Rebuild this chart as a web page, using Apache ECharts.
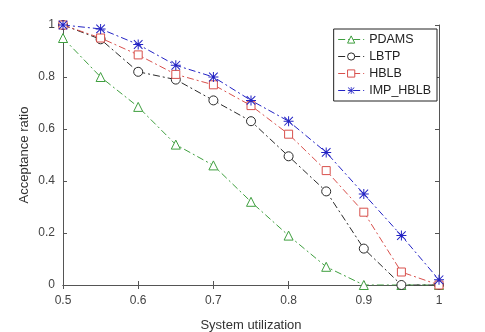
<!DOCTYPE html>
<html>
<head>
<meta charset="utf-8">
<script src="https://cdn.jsdelivr.net/npm/echarts@6/dist/echarts.min.js"></script>
<style>
  html,body{margin:0;padding:0;background:#fff;}
  #chart{width:485px;height:332px;}
</style>
</head>
<body>
<div id="chart"></div>
<script>
// x values (system utilization)
const utilization=[0.5,0.55,0.6,0.65,0.7,0.75,0.8,0.85,0.9,0.95,1];
// acceptance ratio for each algorithm
const pdams=[0.95,0.80,0.685,0.54,0.46,0.32,0.19,0.07,0,0,0];
const lbtp=[1,0.945,0.82,0.79,0.71,0.63,0.495,0.36,0.14,0,0];
const hblb=[1,0.95,0.885,0.81,0.77,0.69,0.58,0.44,0.28,0.05,0];
const impHblb=[1,0.985,0.925,0.845,0.80,0.71,0.63,0.51,0.35,0.19,0.02];

const names=['PDAMS','LBTP','HBLB','IMP_HBLB'];
const values=[pdams,lbtp,hblb,impHblb];
const colors=['#3f9f3f','#2a2a2a','#d8504c','#2323c4'];

const starPath='path://M4.5 0H5.5V10H4.5Z M0 4.5H10V5.5H0Z M0.35 1.06L1.06 0.35L9.65 8.94L8.94 9.65Z M8.94 0.35L9.65 1.06L1.06 9.65L0.35 8.94Z';
const symbols=['triangle','circle','rect',starPath];
const symbolSizes=[9,9,8,10];

const font='"Liberation Sans", Arial, sans-serif';
const axisColor='#555';

const series=names.map((name,i)=>({
    name:name,
    type:'line',
    xAxisIndex:0,
    yAxisIndex:0,
    symbol:symbols[i],
    symbolSize:symbolSizes[i],
    showAllSymbol:true,
    lineStyle:{color:colors[i],width:1,type:[7,3,2,3]},
    itemStyle:i===3?{color:colors[i],borderWidth:0}:{color:'#fff',borderColor:colors[i],borderWidth:1},
    data:utilization.map((x,k)=>[x,values[i][k]])
}));

const fmt=v=>String(+v.toFixed(2));

const option={
    animation:false,
    backgroundColor:'#fff',
    grid:{left:63,right:46,top:25,bottom:47,outerBoundsMode:'none'},
    legend:{
        orient:'vertical',
        right:48,
        top:29,
        backgroundColor:'#fff',
        borderColor:'#222',
        borderWidth:1,
        borderRadius:0,
        padding:[4,6,4,4],
        itemGap:4,
        itemWidth:26,
        itemHeight:9,
        itemStyle:{borderWidth:1},
        lineStyle:{width:1},
        textStyle:{fontFamily:font,fontSize:12.5,color:'#222'},
        data:names
    },
    xAxis:[{
        type:'value',
        min:0.5,max:1,interval:0.1,
        name:'System utilization',
        nameLocation:'middle',
        nameGap:34,
        nameMoveOverlap:false,
        nameTextStyle:{fontFamily:font,fontSize:13,color:'#333'},
        axisLine:{lineStyle:{color:axisColor}},
        axisTick:{inside:true,length:4,lineStyle:{color:axisColor}},
        axisLabel:{fontFamily:font,fontSize:12,color:'#444',margin:10,formatter:fmt},
        splitLine:{show:false}
    },{
        type:'value',
        position:'top',
        min:0.5,max:1,interval:0.1,
        axisLine:{lineStyle:{color:axisColor}},
        axisTick:{inside:true,length:4,lineStyle:{color:axisColor}},
        axisLabel:{show:false},
        splitLine:{show:false}
    }],
    yAxis:[{
        type:'value',
        min:0,max:1,interval:0.2,
        name:'Acceptance ratio',
        nameLocation:'middle',
        nameGap:32,
        nameMoveOverlap:false,
        nameTextStyle:{fontFamily:font,fontSize:13,color:'#333'},
        axisLine:{show:true,lineStyle:{color:axisColor}},
        axisTick:{show:true,inside:true,length:4,lineStyle:{color:axisColor}},
        axisLabel:{fontFamily:font,fontSize:12,color:'#444',margin:8,formatter:fmt},
        splitLine:{show:false}
    },{
        type:'value',
        position:'right',
        min:0,max:1,interval:0.2,
        axisLine:{show:true,lineStyle:{color:axisColor}},
        axisTick:{show:true,inside:true,length:4,lineStyle:{color:axisColor}},
        axisLabel:{show:false},
        splitLine:{show:false}
    }],
    series:series
};

const chart=echarts.init(document.getElementById('chart'),null,{renderer:'canvas'});
chart.setOption(option);
</script>
</body>
</html>
